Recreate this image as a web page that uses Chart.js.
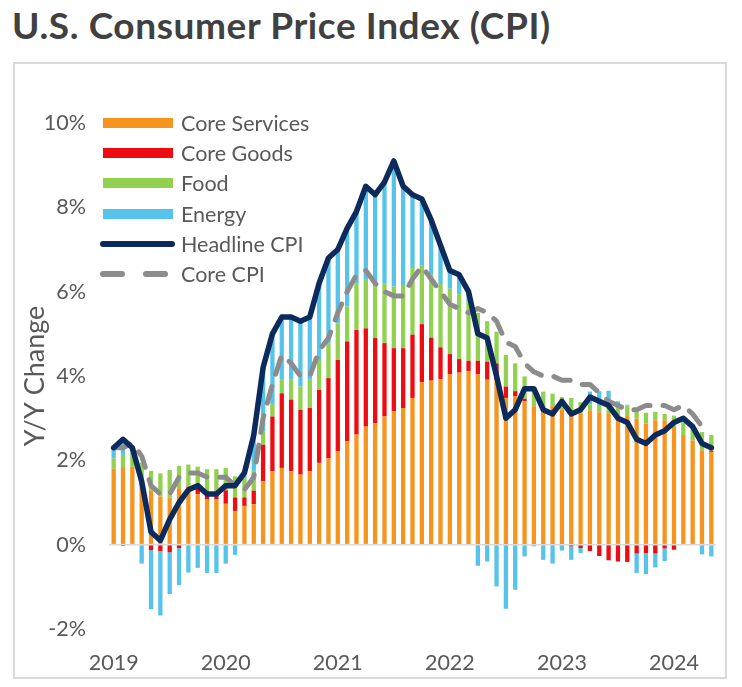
<!DOCTYPE html>
<html>
<head>
<meta charset="utf-8">
<title>U.S. Consumer Price Index (CPI)</title>
<script src="https://cdn.jsdelivr.net/npm/chart.js@4.4.1/dist/chart.umd.min.js"></script>
<style>
  body { margin: 0; background: #fff; font-family: Lato, 'Open Sans', sans-serif; }
  #page { position: relative; width: 742px; height: 687px; overflow: hidden; }
  h1 { position: absolute; left: 12px; top: 6px; margin: 0; font-size: 37px; line-height: 37px; letter-spacing: 0.6px; font-weight: 700; color: #404040; white-space: nowrap; }
  #frame { position: absolute; left: 13px; top: 62px; width: 710px; height: 613px; border: 2px solid #d9d9d9; }
  canvas { position: absolute; left: 0; top: 0; }
  #legend { position: absolute; left: 100px; top: 107.6px; }
  .row { display: flex; align-items: center; height: 30.3px; }
  .key { width: 81px; height: 100%; position: relative; }
  .key span { position: absolute; top: 50%; display: block; }
  .lbl { font-size: 21.5px; color: #595959; white-space: nowrap; }
</style>
</head>
<body>
<div id="page">
  <h1>U.S. Consumer Price Index (CPI)</h1>
  <div id="frame"></div>
  <canvas id="cpiChart" width="742" height="687"></canvas>
  <div id="legend"></div>
</div>
<script>
// monthly, Dec 2019 .. Apr 2025
const months = [
  'Dec 2019',
  'Jan 2020', 'Feb 2020', 'Mar 2020', 'Apr 2020', 'May 2020', 'Jun 2020', 'Jul 2020', 'Aug 2020', 'Sep 2020', 'Oct 2020', 'Nov 2020', 'Dec 2020',
  'Jan 2021', 'Feb 2021', 'Mar 2021', 'Apr 2021', 'May 2021', 'Jun 2021', 'Jul 2021', 'Aug 2021', 'Sep 2021', 'Oct 2021', 'Nov 2021', 'Dec 2021',
  'Jan 2022', 'Feb 2022', 'Mar 2022', 'Apr 2022', 'May 2022', 'Jun 2022', 'Jul 2022', 'Aug 2022', 'Sep 2022', 'Oct 2022', 'Nov 2022', 'Dec 2022',
  'Jan 2023', 'Feb 2023', 'Mar 2023', 'Apr 2023', 'May 2023', 'Jun 2023', 'Jul 2023', 'Aug 2023', 'Sep 2023', 'Oct 2023', 'Nov 2023', 'Dec 2023',
  'Jan 2024', 'Feb 2024', 'Mar 2024', 'Apr 2024', 'May 2024', 'Jun 2024', 'Jul 2024', 'Aug 2024', 'Sep 2024', 'Oct 2024', 'Nov 2024', 'Dec 2024',
  'Jan 2025', 'Feb 2025', 'Mar 2025', 'Apr 2025'
];

// year labels sit under every 12th bar
const yearTicks = ['2019', '2020', '2021', '2022', '2023', '2024'];

// contributions to Y/Y change, percentage points
const coreServices = [
  1.8, 1.84, 1.85, 1.6, 1.28, 1.14, 1.12, 1.34, 1.4, 1.2,
  1.07, 1.07, 0.97, 0.8, 0.92, 0.96, 1.5, 1.74, 1.82, 1.74,
  1.66, 1.74, 1.94, 2.05, 2.21, 2.45, 2.61, 2.8, 2.88, 3.04,
  3.16, 3.24, 3.48, 3.85, 3.89, 3.93, 4.04, 4.08, 4.12, 4.04,
  3.91, 3.91, 3.48, 3.52, 3.4, 3.28, 3.24, 3.28, 3.2, 3.12,
  3.1, 3.18, 3.14, 3.1, 3.03, 3.05, 2.99, 2.87, 2.95, 2.95,
  2.79, 2.6, 2.47, 2.24, 2.2
];
const coreGoods = [
  0, -0.03, 0, 0, -0.13, -0.15, -0.18, -0.08, 0, 0.15,
  0.19, 0.17, 0.32, 0.32, 0.2, 0.32, 0.87, 1.3, 1.77, 1.7,
  1.54, 1.5, 1.73, 1.9, 2.17, 2.37, 2.48, 2.33, 2.02, 1.74,
  1.5, 1.42, 1.5, 1.38, 1.02, 0.75, 0.48, 0.32, 0.24, 0.32,
  0.43, 0.39, 0.27, 0.12, 0.06, 0, 0, 0, -0.02, -0.04,
  -0.08, -0.15, -0.27, -0.37, -0.4, -0.41, -0.21, -0.2, -0.21, -0.09,
  -0.12, 0, 0, 0, 0.03
];
const food = [
  0.25, 0.29, 0.3, 0.35, 0.47, 0.55, 0.65, 0.53, 0.5, 0.5,
  0.53, 0.55, 0.53, 0.5, 0.45, 0.47, 0.32, 0.32, 0.32, 0.47,
  0.55, 0.67, 0.71, 0.83, 0.87, 0.83, 1.11, 1.15, 1.3, 1.42,
  1.46, 1.5, 1.58, 1.4, 1.5, 1.5, 1.55, 1.54, 1.4, 1.14,
  0.96, 0.75, 0.75, 0.66, 0.53, 0.38, 0.39, 0.3, 0.3, 0.36,
  0.28, 0.15, 0.15, 0.25, 0.27, 0.25, 0.19, 0.26, 0.2, 0.15,
  0.27, 0.3, 0.33, 0.43, 0.37
];
const energy = [
  0.25, 0.35, 0.15, -0.45, -1.4, -1.53, -0.99, -0.88, -0.66, -0.55,
  -0.67, -0.67, -0.45, -0.24, 0.13, 0.85, 1.5, 1.7, 1.5, 1.5,
  1.58, 1.45, 1.8, 2.0, 1.75, 1.85, 1.7, 2.2, 2.13, 2.4,
  2.95, 2.35, 1.7, 1.55, 1.3, 0.9, 0.43, 0.45, 0.24, -0.5,
  -0.4, -0.99, -1.52, -1.07, -0.28, -0.04, -0.36, -0.45, -0.12, -0.32,
  -0.12, 0.3, 0.35, 0.3, 0.1, 0.02, -0.46, -0.5, -0.33, -0.3,
  0, 0.07, 0, -0.23, -0.28
];

// Y/Y %, all items and core
const headline = [
  2.3, 2.5, 2.3, 1.5, 0.3, 0.1, 0.6, 1.0, 1.3, 1.4,
  1.2, 1.2, 1.4, 1.4, 1.7, 2.6, 4.2, 5.0, 5.4, 5.4,
  5.3, 5.4, 6.2, 6.8, 7.0, 7.5, 7.9, 8.5, 8.3, 8.6,
  9.1, 8.5, 8.3, 8.2, 7.7, 7.1, 6.5, 6.4, 6.0, 5.0,
  4.9, 4.0, 3.0, 3.2, 3.7, 3.7, 3.2, 3.1, 3.4, 3.1,
  3.2, 3.5, 3.4, 3.3, 3.0, 2.9, 2.5, 2.4, 2.6, 2.7,
  2.9, 3.0, 2.8, 2.4, 2.3
];
const coreCpi = [
  2.3, 2.3, 2.4, 2.1, 1.4, 1.2, 1.2, 1.6, 1.7, 1.7,
  1.6, 1.6, 1.6, 1.4, 1.3, 1.6, 3.0, 3.8, 4.5, 4.3,
  4.0, 4.0, 4.6, 4.9, 5.5, 6.0, 6.4, 6.5, 6.2, 6.0,
  5.9, 5.9, 6.3, 6.6, 6.3, 6.0, 5.7, 5.6, 5.5, 5.6,
  5.5, 5.3, 4.8, 4.7, 4.3, 4.1, 4.0, 4.0, 3.9, 3.9,
  3.8, 3.8, 3.6, 3.4, 3.3, 3.2, 3.2, 3.3, 3.3, 3.3,
  3.2, 3.3, 3.1, 2.8, 2.8
];

const COLORS = {
  services: '#f7941d',
  goods: '#ec0c12',
  food: '#92d050',
  energy: '#55c3ea',
  headline: '#0c2a5c',
  core: '#8c8c8c'
};
const TEXT = '#595959';
const FONT = 'Lato, "Open Sans", sans-serif';

const barBase = {
  type: 'bar',
  stack: 'parts',
  order: 2,
  barPercentage: 0.46,
  categoryPercentage: 1,
  borderWidth: 0
};

new Chart(document.getElementById('cpiChart'), {
  data: {
    labels: months,
    datasets: [
      { ...barBase, label: 'Core Services', data: coreServices, backgroundColor: COLORS.services },
      { ...barBase, label: 'Core Goods', data: coreGoods, backgroundColor: COLORS.goods },
      { ...barBase, label: 'Food', data: food, backgroundColor: COLORS.food },
      { ...barBase, label: 'Energy', data: energy, backgroundColor: COLORS.energy },
      {
        type: 'line', label: 'Headline CPI', data: headline,
        stack: 'headline', order: 0,
        borderColor: COLORS.headline, borderWidth: 5.5,
        borderJoinStyle: 'round', borderCapStyle: 'round',
        pointRadius: 0, fill: false, tension: 0
      },
      {
        type: 'line', label: 'Core CPI', data: coreCpi,
        stack: 'core', order: 1,
        borderColor: COLORS.core, borderWidth: 5, borderDash: [17, 13],
        borderCapStyle: 'round', borderJoinStyle: 'round',
        pointRadius: 0, fill: false, tension: 0
      }
    ]
  },
  options: {
    responsive: false,
    animation: false,
    devicePixelRatio: 1,
    layout: { padding: { left: 14, top: 123, right: 26, bottom: 0 } },
    plugins: {
      legend: { display: false },
      tooltip: { enabled: false }
    },
    scales: {
      x: {
        stacked: true,
        grid: { display: false },
        border: { display: false },
        ticks: {
          autoSkip: false,
          maxRotation: 0,
          padding: 13,
          color: TEXT,
          font: { family: FONT, size: 21.5 },
          callback: (v, i) => (i % 12 === 0 ? yearTicks[i / 12] : '')
        },
        afterFit: (scale) => { scale.height = 58; }
      },
      y: {
        stacked: true,
        min: -2,
        max: 10,
        grid: {
          drawTicks: false,
          lineWidth: 1.5,
          color: (ctx) => (ctx.tick && ctx.tick.value === 0 ? '#d9d9d9' : 'transparent')
        },
        border: { display: false },
        ticks: {
          stepSize: 2,
          padding: 23,
          color: TEXT,
          font: { family: FONT, size: 21.5 },
          callback: (v) => v + '%'
        },
        title: {
          display: true,
          text: 'Y/Y Change',
          color: TEXT,
          font: { family: FONT, size: 27 },
          padding: { top: 5, bottom: 0 }
        },
        afterFit: (scale) => { scale.width = 95; }
      }
    }
  }
});

// legend drawn as plain html, swatches matching the reference key
const legendItems = [
  { label: 'Core Services', kind: 'bar', color: COLORS.services },
  { label: 'Core Goods', kind: 'bar', color: COLORS.goods },
  { label: 'Food', kind: 'bar', color: COLORS.food },
  { label: 'Energy', kind: 'bar', color: COLORS.energy },
  { label: 'Headline CPI', kind: 'line', color: COLORS.headline },
  { label: 'Core CPI', kind: 'dash', color: COLORS.core }
];

const legendEl = document.getElementById('legend');
legendItems.forEach(item => {
  const row = document.createElement('div');
  row.className = 'row';
  const key = document.createElement('div');
  key.className = 'key';

  if (item.kind === 'bar') {
    const s = document.createElement('span');
    s.style.cssText = `left:3px;width:70px;height:10px;margin-top:-5px;background:${item.color};`;
    key.appendChild(s);
  } else if (item.kind === 'line') {
    const s = document.createElement('span');
    s.style.cssText = `left:0;width:75px;height:6px;margin-top:-3px;border-radius:3px;background:${item.color};`;
    key.appendChild(s);
  } else {
    [0, 43].forEach(x => {
      const s = document.createElement('span');
      s.style.cssText = `left:${x}px;width:25px;height:6px;margin-top:-3px;border-radius:3px;background:${item.color};`;
      key.appendChild(s);
    });
  }

  const lbl = document.createElement('div');
  lbl.className = 'lbl';
  lbl.textContent = item.label;

  row.appendChild(key);
  row.appendChild(lbl);
  legendEl.appendChild(row);
});
</script>
</body>
</html>
